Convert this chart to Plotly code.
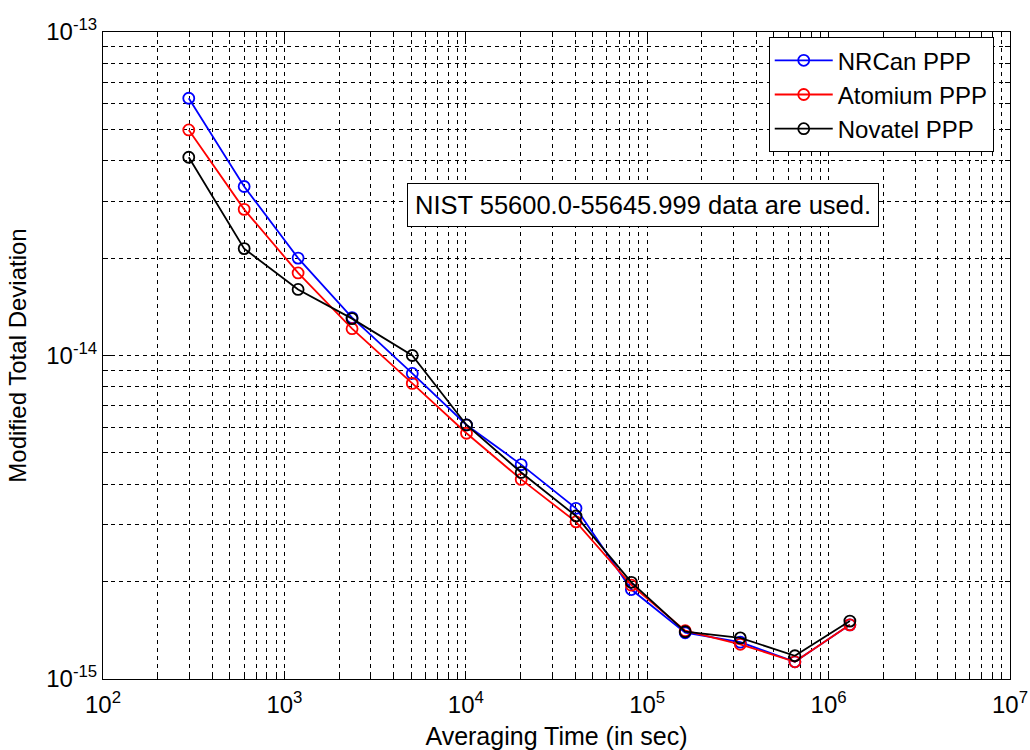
import plotly.graph_objects as go

# ---- data ----
tau = [297, 600, 1190, 2360, 5070, 10090, 20200, 40500, 81800, 162000, 326000, 652000, 1310000]
nrcan = [6.24e-14, 3.33e-14, 2.00e-14, 1.31e-14, 8.8e-15, 6.1e-15, 4.6e-15, 3.37e-15,
         1.89e-15, 1.39e-15, 1.30e-15, 1.13e-15, 1.47e-15]
atomium = [4.98e-14, 2.83e-14, 1.80e-14, 1.21e-14, 8.2e-15, 5.75e-15, 4.14e-15, 3.06e-15,
           1.95e-15, 1.41e-15, 1.28e-15, 1.13e-15, 1.47e-15]
novatel = [4.10e-14, 2.14e-14, 1.60e-14, 1.30e-14, 1.00e-14, 6.1e-15, 4.35e-15, 3.19e-15,
           1.99e-15, 1.40e-15, 1.34e-15, 1.18e-15, 1.51e-15]

series_names = ["NRCan PPP", "Atomium PPP", "Novatel PPP"]
series_colors = ["#0000FF", "#FF0000", "#000000"]

x_tickvals = [1e2, 1e3, 1e4, 1e5, 1e6, 1e7]
x_ticktext = ["10<sup>2</sup>", "10<sup>3</sup>", "10<sup>4</sup>", "10<sup>5</sup>",
              "10<sup>6</sup>", "10<sup>7</sup>"]
y_tickvals = [1e-15, 1e-14, 1e-13]
y_ticktext = ["10<sup>-15</sup>", "10<sup>-14</sup>", "10<sup>-13</sup>"]

note_text = "NIST 55600.0-55645.999 data are used."
x_title = "Averaging Time (in sec)"
y_title = "Modified Total Deviation"

FONT = "Arial, Liberation Sans, sans-serif"

fig = go.Figure()
for name, vals, col in zip(series_names, [nrcan, atomium, novatel], series_colors):
    fig.add_trace(go.Scatter(
        x=tau, y=vals, name=name, mode="lines+markers",
        line=dict(color=col, width=1.8),
        marker=dict(symbol="circle-open", size=11, color=col, line=dict(width=1.8, color=col)),
    ))

x_minor = [m * 10 ** e for e in range(2, 7) for m in range(2, 10)]
y_minor = [m * 10.0 ** e for e in range(-15, -13) for m in range(2, 10)]

grid_style = dict(showgrid=True, gridcolor="#000000", gridwidth=1, griddash="4px,4px")

fig.update_xaxes(
    type="log", range=[2, 7], automargin=False,
    tickmode="array", tickvals=x_tickvals, ticktext=x_ticktext,
    ticks="inside", ticklen=8, tickcolor="#000000", tickwidth=1,
    showline=True, linecolor="#000000", linewidth=1, mirror="ticks",
    zeroline=False, ticklabelstandoff=4,
    tickfont=dict(family=FONT, size=24, color="#000000"),
    title=dict(text=x_title, font=dict(family=FONT, size=25, color="#000000"), standoff=10),
    minor=dict(tickmode="array", tickvals=x_minor, ticks="inside", ticklen=5,
               tickcolor="#000000", **grid_style),
    **grid_style,
)
fig.update_yaxes(
    type="log", range=[-15, -13], automargin=False,
    tickmode="array", tickvals=y_tickvals, ticktext=y_ticktext,
    ticks="inside", ticklen=8, tickcolor="#000000", tickwidth=1,
    showline=True, linecolor="#000000", linewidth=1, mirror="ticks",
    zeroline=False,
    tickfont=dict(family=FONT, size=24, color="#000000"),
    title=dict(text=y_title, font=dict(family=FONT, size=24, color="#000000"), standoff=12),
    minor=dict(tickmode="array", tickvals=y_minor, ticks="inside", ticklen=5,
               tickcolor="#000000", **grid_style),
    **grid_style,
)

fig.add_annotation(
    text=note_text, xref="paper", yref="paper", x=0.335, y=0.732,
    xanchor="left", yanchor="middle", showarrow=False,
    font=dict(family=FONT, size=25.5, color="#000000"),
    bgcolor="#FFFFFF", bordercolor="#000000", borderwidth=1, borderpad=7,
)

fig.update_layout(
    width=1030, height=750,
    margin=dict(l=103, r=20, t=32, b=71),
    paper_bgcolor="#FFFFFF", plot_bgcolor="#FFFFFF",
    font=dict(family=FONT, color="#000000"),
    showlegend=True,
    legend=dict(
        x=0.734, y=0.992, xanchor="left", yanchor="top",
        bgcolor="#FFFFFF", bordercolor="#000000", borderwidth=1,
        font=dict(family=FONT, size=24, color="#000000"),
        itemwidth=58, tracegroupgap=0,
    ),
)

fig.write_html("out.html")
